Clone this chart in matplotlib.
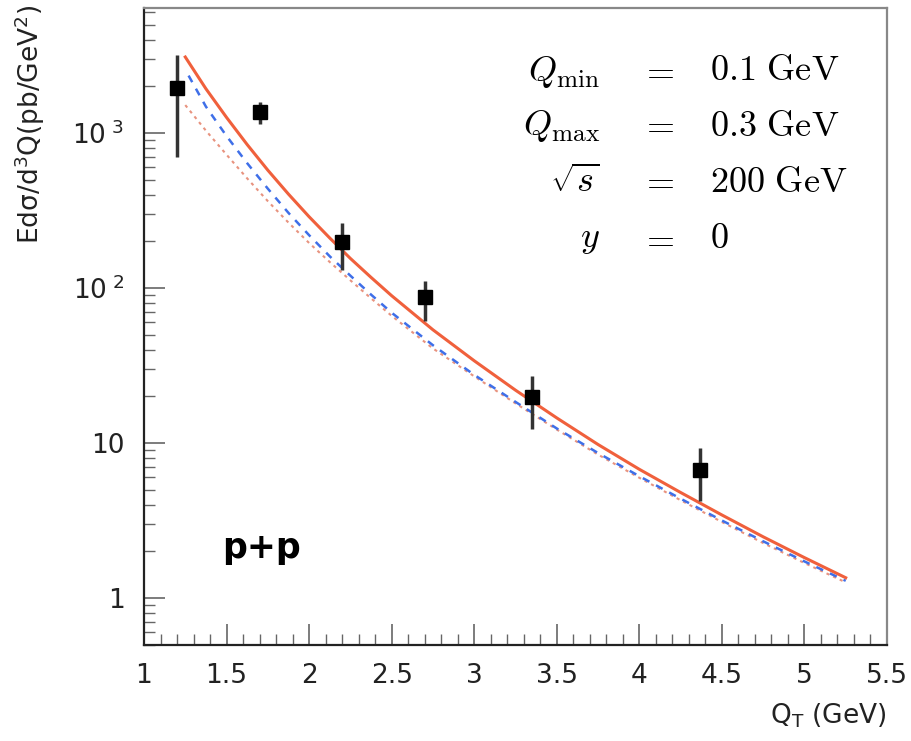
import numpy as np
import matplotlib
matplotlib.use("Agg")
import matplotlib.pyplot as plt
from matplotlib.ticker import MultipleLocator, FixedLocator, NullFormatter, LogLocator

# data points
qt = [1.2, 1.7, 2.2, 2.7, 3.35, 4.37]
sigma = [1940, 1370, 197, 87, 19.9, 6.7]
err_hi = [3190, 1590, 262, 111, 27.2, 9.3]
err_lo = [700, 1140, 131, 61, 12.3, 4.2]

# theory curves
x_curve = [1.25, 1.375, 1.5, 1.625, 1.75, 1.875, 2.0, 2.125, 2.25, 2.375, 2.5,
           2.75, 3.0, 3.25, 3.5, 3.75, 4.0, 4.25, 4.5, 4.75, 5.0, 5.25]
x_blue = [1.27] + x_curve[1:]
solid_vals = [3090, 1928, 1259, 841, 575, 403, 288, 210, 155, 117, 89.1,
              53.7, 33.9, 21.9, 14.5, 9.77, 6.76, 4.79, 3.43, 2.48, 1.82, 1.35]
dashed_vals = [2344, 1479, 955, 638, 437, 305, 219, 160, 120, 90.6, 69.2,
               42.7, 27.5, 18.4, 12.4, 8.61, 6.10, 4.37, 3.16, 2.32, 1.72, 1.29]
dotted_vals = [1513, 1035, 724, 509, 363, 264, 195, 147, 112, 85.7, 66.1,
               40.7, 26.9, 18.0, 12.2, 8.41, 5.96, 4.27, 3.09, 2.26, 1.68, 1.26]

W, H = 912, 741
fig = plt.figure(figsize=(W / 100, H / 100), dpi=100)
ax = fig.add_axes([144 / W, 1 - 645 / H, (887 - 144) / W, (645 - 8) / H])

ax.plot(x_curve, dotted_vals, color="#e8937f", lw=1.5, ls=(0, (1.5, 2)))
ax.plot(x_blue, dashed_vals, color="#3f6fe8", lw=1.8, ls=(0, (3, 3)))
ax.plot(x_curve, solid_vals, color="#f0603c", lw=2.2)

yerr = [np.array(sigma) - np.array(err_lo), np.array(err_hi) - np.array(sigma)]
ax.errorbar(qt, sigma, yerr=yerr, fmt="s", color="black", ecolor="#333333",
            ms=10, elinewidth=2.5, capsize=0)

ax.set_yscale("log")
ax.set_xlim(1, 5.5)
ax.set_ylim(0.497, 6400)

ax.xaxis.set_minor_locator(MultipleLocator(0.1))
ax.set_xticks([1, 1.5, 2, 2.5, 3, 3.5, 4, 4.5, 5, 5.5])
ax.set_xticklabels(["1", "1.5", "2", "2.5", "3", "3.5", "4", "4.5", "5", "5.5"])

ax.yaxis.set_major_locator(FixedLocator([1, 10, 100, 1000]))
ax.set_yticklabels(["1", "10", r"10$^{\ 2}$", r"10$^{\ 3}$"])
ax.yaxis.set_minor_locator(LogLocator(base=10, subs=np.arange(2, 10)))
ax.yaxis.set_minor_formatter(NullFormatter())

ax.tick_params(which="both", direction="in", top=False, right=False,
               colors="#666666", labelcolor="#222222", labelsize=19)
ax.tick_params(which="major", length=15, width=1.2)
ax.tick_params(which="minor", length=8, width=1.0)
ax.tick_params(axis="x", pad=13)
ax.tick_params(axis="y", pad=14)
for side in ["left", "bottom"]:
    ax.spines[side].set_color("#222222")
    ax.spines[side].set_linewidth(1.6)
for side in ["top", "right"]:
    ax.spines[side].set_color("#888888")
    ax.spines[side].set_linewidth(1.6)

fig.text(30 / W, 1 - 5 / H, r"Edσ/d$^3$Q(pb/GeV$^2$)", rotation=90,
         ha="center", va="top", fontsize=19, color="#222222")
fig.text(886 / W, 1 - 716 / H, r"Q$_\mathregular{T}$ (GeV)", ha="right", va="center",
         fontsize=19, color="#222222")

fig.text(222 / W, 1 - 548 / H, "p+p", ha="left", va="center", fontsize=25,
         fontweight="bold")

rows = [
    (r"$Q_{\rm min}$", r"$0.1\ {\rm GeV}$", 67),
    (r"$Q_{\rm max}$", r"$0.3\ {\rm GeV}$", 122),
    (r"$\sqrt{s}$", r"$200\ {\rm GeV}$", 178),
    (r"$y$", r"$0$", 235),
]
for left, right, yc in rows:
    fig.text(600 / W, 1 - yc / H, left, ha="right", va="center_baseline",
             fontsize=26, math_fontfamily="cm")
    fig.text(657 / W, 1 - yc / H, r"$=$", ha="center", va="center_baseline",
             fontsize=26, math_fontfamily="cm")
    fig.text(710 / W, 1 - yc / H, right, ha="left", va="center_baseline",
             fontsize=26, math_fontfamily="cm")

fig.savefig("out.png", dpi=100)
